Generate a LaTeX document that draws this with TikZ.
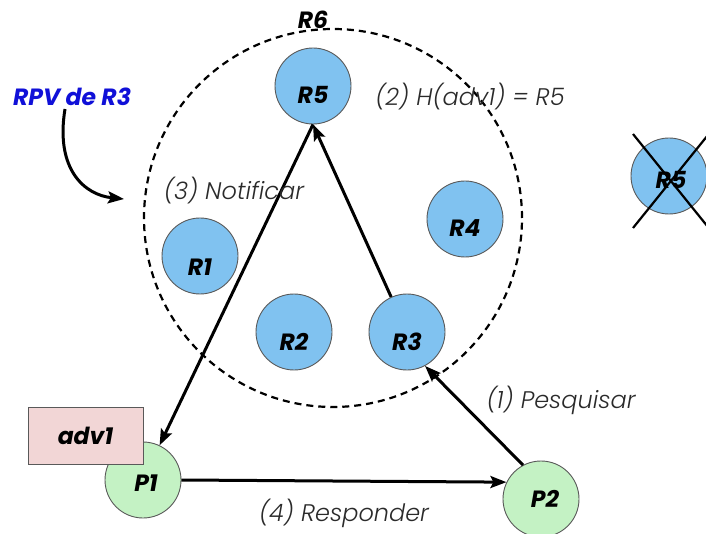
\documentclass[tikz,border=0pt]{standalone}
\usepackage{fontspec}
\setmainfont{Poppins}
\newfontfamily\poplight{Poppins}[UprightFont=* Light, ItalicFont=* Light Italic]
\usetikzlibrary{arrows.meta}
\definecolor{peerblue}{HTML}{80C2F0}
\definecolor{peergreen}{HTML}{C4F2C4}
\definecolor{advpink}{HTML}{F2D6D6}
\definecolor{rpvblue}{HTML}{1010D8}
\definecolor{steptext}{HTML}{2A2A2A}
\tikzset{
  peer/.style={circle, draw=black!65, line width=0.9, minimum size=76, inner sep=0},
  rnode/.style={peer, fill=peerblue},
  pnode/.style={peer, fill=peergreen},
  lbl/.style={font=\fontsize{23.5}{23.5}\selectfont\bfseries\itshape},
  steplbl/.style={font=\fontsize{24}{24}\selectfont\poplight\itshape, text=steptext},
  link/.style={line width=3, -{Stealth[length=16,width=12,inset=3]}},
  ring/.style={circle, draw, line width=2.2, dash pattern=on 7 off 5, minimum size=378, inner sep=0}
}
\begin{document}
\begin{tikzpicture}[x=1pt,y=-1pt]
  \useasboundingbox (0,0) rectangle (706,534);

  % dashed neighbourhood circle
  \node[ring] (ring) at (333,218) {};
  \node[lbl] (r6) at (313,20) {R6};

  % peers
  \node[rnode, label={[lbl,yshift=-9]center:R5}] (R5) at (313,86) {};
  \node[rnode, label={[lbl,yshift=-11]center:R1}] (R1) at (200,256) {};
  \node[rnode, label={[lbl,yshift=-10]center:R2}] (R2) at (294,332) {};
  \node[rnode, label={[lbl,yshift=-10]center:R3}] (R3) at (407,332) {};
  \node[rnode, label={[lbl,yshift=-9]center:R4}] (R4) at (465,219) {};
  \node[pnode, label={[lbl,yshift=-3,xshift=3]center:P1}] (P1) at (143,480) {};
  \node[pnode, label={[lbl,xshift=4]center:P2}] (P2) at (541,499) {};

  % departed peer, crossed out
  \node[rnode, label={[lbl,yshift=-4,xshift=2]center:R5}] (R5x) at (669,176) {};
  \coordinate (xa) at (633,134);
  \coordinate (xb) at (712,232);
  \coordinate (xc) at (633,228);
  \coordinate (xd) at (712,130);
  \draw[line width=2.2] (xa) -- (xb);
  \draw[line width=2.2] (xc) -- (xd);

  % advertisement stored at P1
  \node[draw=black!65, line width=0.9, fill=advpink, minimum width=115, minimum height=57,
        inner sep=0, lbl] (adv) at (85.5,435.5) {adv1};

  % message flow
  \draw[link] (P2.118) -- (R3.-62);
  \draw[link] (R3) -- (R5.south);
  \draw[link] (R5.south) -- (P1);
  \draw[link] (P1.east) -- (P2.154);

  % step labels
  \node[steplbl] (s1) at (561,400) {(1) Pesquisar};
  \node[steplbl] (s2) at (470,97) {(2) H(adv1) = R5};
  \node[steplbl] (s3) at (234,191) {(3) Notificar};
  \node[steplbl] (s4) at (344,513) {(4) Responder};

  % RPV annotation
  \node[lbl, text=rpvblue] (rpv) at (72,97) {RPV de R3};
  \coordinate (rpvend) at (124,199);
  \draw[link] (65,109) .. controls (55,170) and (85,195) .. (rpvend);
\end{tikzpicture}
\end{document}
